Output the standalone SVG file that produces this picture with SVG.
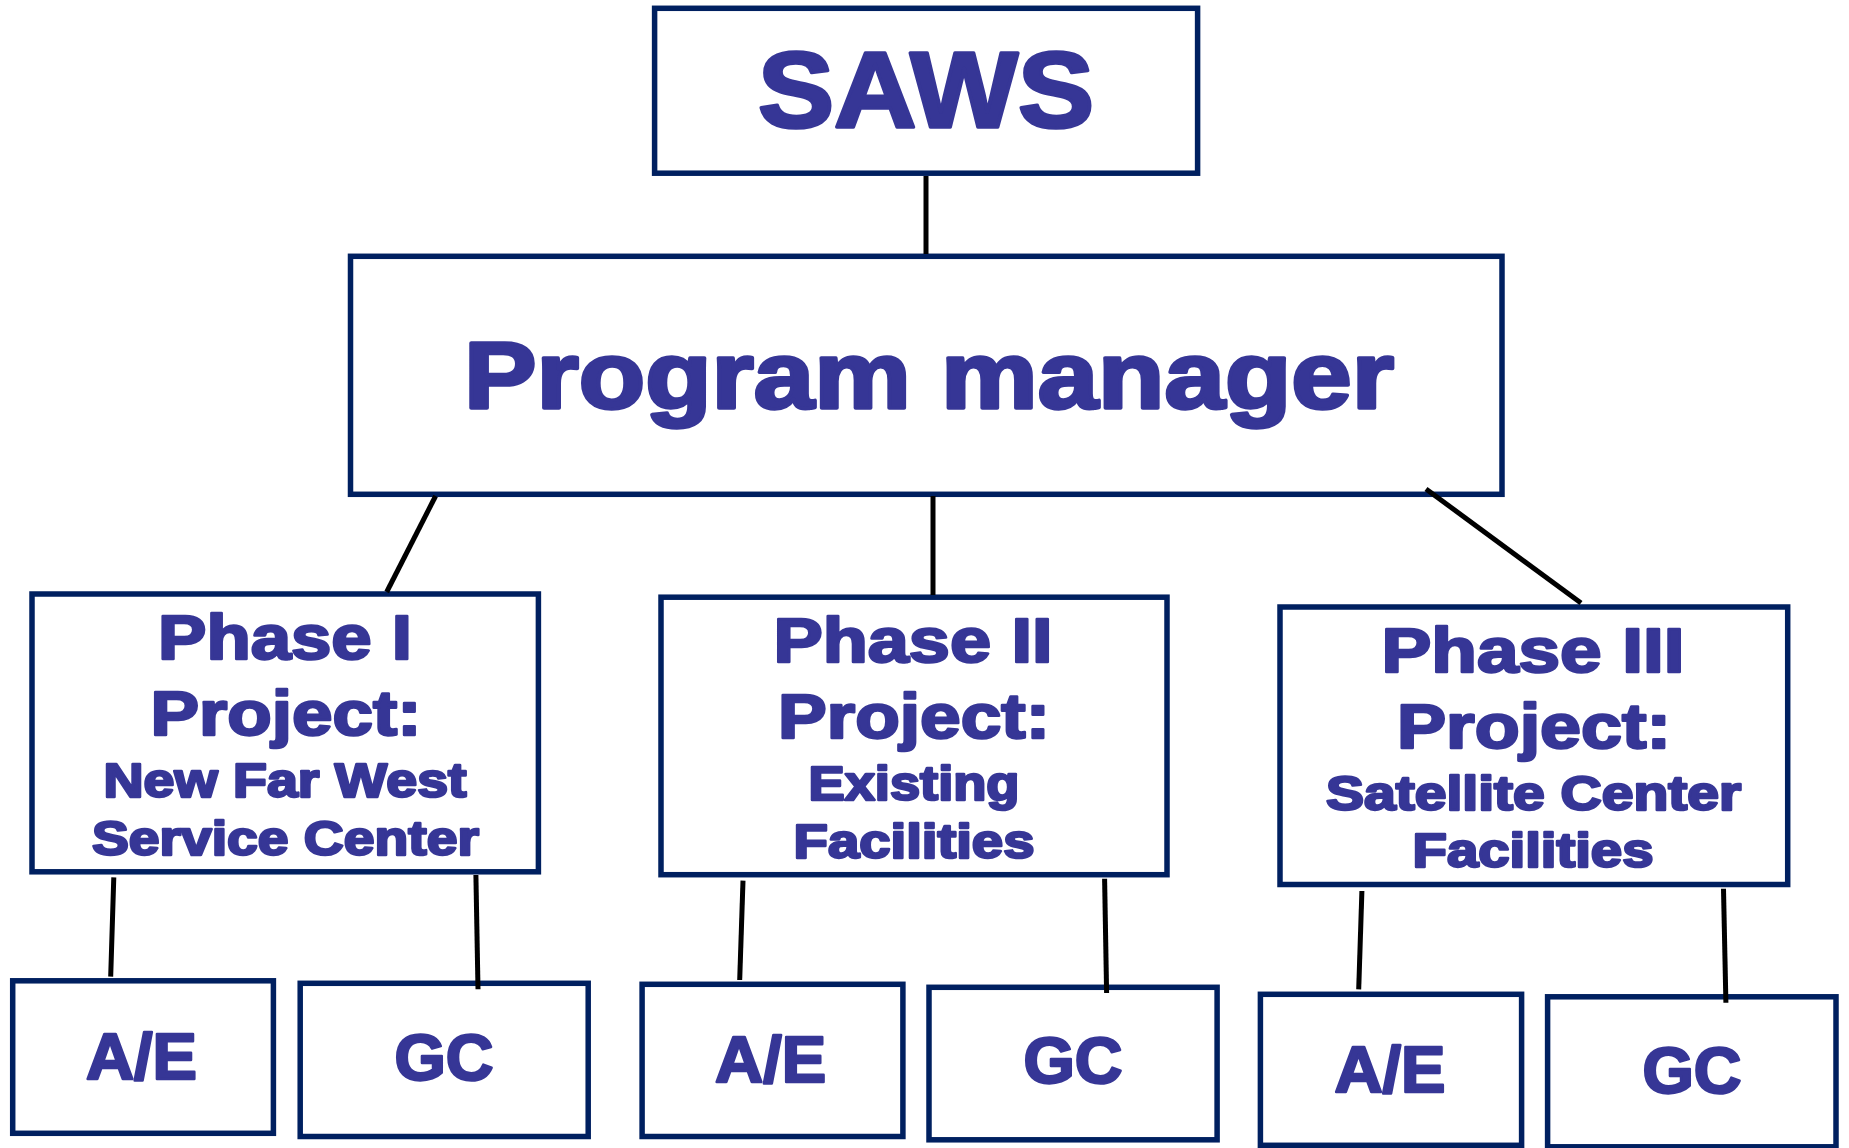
<svg xmlns="http://www.w3.org/2000/svg" width="1849" height="1148" viewBox="0 0 1849 1148">
<style>
.box{fill:#ffffff;stroke:#002060;stroke-width:5.5}
.t{font-family:"Liberation Sans",Arial,sans-serif;font-weight:bold;fill:#363696;stroke:#363696;stroke-width:2.5;stroke-linejoin:round;text-anchor:middle}
.big{stroke-width:3.5}
.c{stroke:#000000;stroke-width:5;fill:none}
</style>
<rect x="0" y="0" width="1849" height="1148" fill="#ffffff"/>
<g id="saws">
<rect class="box" x="654.6" y="8.3" width="543" height="164.9"/>
<text class="t big" x="926" y="126.7" font-size="108" textLength="336" lengthAdjust="spacingAndGlyphs">SAWS</text>
</g>
<g id="program-manager">
<rect class="box" x="350.5" y="256.3" width="1151.5" height="238"/>
<text class="t big" x="929" y="407.7" font-size="95" textLength="930" lengthAdjust="spacingAndGlyphs">Program manager</text>
</g>
<g id="phase1">
<rect class="box" x="32" y="594" width="506.4" height="277.8"/>
<text class="t" x="285" y="658.7" font-size="63" textLength="254" lengthAdjust="spacingAndGlyphs">Phase I</text>
<text class="t" x="286" y="735" font-size="63" textLength="271" lengthAdjust="spacingAndGlyphs">Project:</text>
<text class="t" x="285" y="796.7" font-size="48" textLength="363" lengthAdjust="spacingAndGlyphs">New Far West</text>
<text class="t" x="285.4" y="855" font-size="48" textLength="387" lengthAdjust="spacingAndGlyphs">Service Center</text>
</g>
<g id="phase2">
<rect class="box" x="661" y="597.2" width="506" height="277.5"/>
<text class="t" x="913" y="661.7" font-size="63" textLength="279" lengthAdjust="spacingAndGlyphs">Phase II</text>
<text class="t" x="914" y="738.3" font-size="63" textLength="272" lengthAdjust="spacingAndGlyphs">Project:</text>
<text class="t" x="914" y="800" font-size="48" textLength="211" lengthAdjust="spacingAndGlyphs">Existing</text>
<text class="t" x="914" y="858.3" font-size="48" textLength="241" lengthAdjust="spacingAndGlyphs">Facilities</text>
</g>
<g id="phase3">
<rect class="box" x="1280" y="607" width="507.7" height="277.5"/>
<text class="t" x="1533" y="671.7" font-size="63" textLength="303" lengthAdjust="spacingAndGlyphs">Phase III</text>
<text class="t" x="1534" y="748.3" font-size="63" textLength="274" lengthAdjust="spacingAndGlyphs">Project:</text>
<text class="t" x="1533.6" y="810" font-size="48" textLength="415" lengthAdjust="spacingAndGlyphs">Satellite Center</text>
<text class="t" x="1533" y="867.3" font-size="48" textLength="241" lengthAdjust="spacingAndGlyphs">Facilities</text>
</g>
<g id="ae1">
<rect class="box" x="12.7" y="980.8" width="260.7" height="152.5"/>
<text class="t" x="141.5" y="1079" font-size="65" textLength="111" lengthAdjust="spacingAndGlyphs">A/E</text>
</g>
<g id="gc1">
<rect class="box" x="300.2" y="983.3" width="288" height="153.2"/>
<text class="t" x="444" y="1080" font-size="65" textLength="99" lengthAdjust="spacingAndGlyphs">GC</text>
</g>
<g id="ae2">
<rect class="box" x="642.1" y="984.3" width="260.8" height="152.2"/>
<text class="t" x="770.6" y="1082" font-size="65" textLength="111" lengthAdjust="spacingAndGlyphs">A/E</text>
</g>
<g id="gc2">
<rect class="box" x="929" y="987.3" width="288.1" height="152.5"/>
<text class="t" x="1073" y="1083" font-size="65" textLength="99" lengthAdjust="spacingAndGlyphs">GC</text>
</g>
<g id="ae3">
<rect class="box" x="1260.4" y="994.3" width="261.2" height="151"/>
<text class="t" x="1390" y="1092" font-size="65" textLength="111" lengthAdjust="spacingAndGlyphs">A/E</text>
</g>
<g id="gc3">
<rect class="box" x="1547.6" y="996.8" width="288.4" height="150"/>
<text class="t" x="1692" y="1093" font-size="65" textLength="99" lengthAdjust="spacingAndGlyphs">GC</text>
</g>
<g id="connectors">
<line class="c" x1="926" y1="176" x2="926" y2="254"/>
<line class="c" x1="435.6" y1="496" x2="386.7" y2="592"/>
<line class="c" x1="933" y1="496" x2="933" y2="595"/>
<line class="c" x1="1426" y1="489" x2="1581" y2="603"/>
<line class="c" x1="113.8" y1="877.3" x2="110.7" y2="976.7"/>
<line class="c" x1="475.9" y1="875" x2="478" y2="989.3"/>
<line class="c" x1="743" y1="880.7" x2="739.7" y2="980"/>
<line class="c" x1="1104.6" y1="878.7" x2="1106.6" y2="993"/>
<line class="c" x1="1361.9" y1="891" x2="1358.7" y2="989.3"/>
<line class="c" x1="1723.5" y1="888.7" x2="1725.9" y2="1002.7"/>
</g>
</svg>
